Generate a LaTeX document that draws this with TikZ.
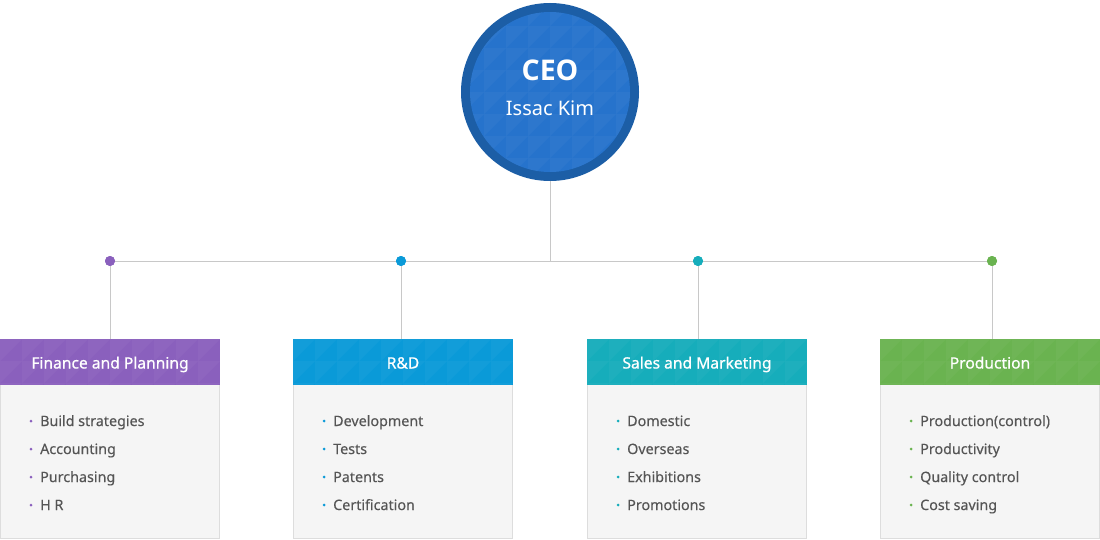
\documentclass[tikz,border=0pt]{standalone}
\usepackage{fontspec}
\setmainfont{Noto Sans}
\newfontfamily\ceofont{Open Sans}
\newfontfamily\hdrfont{Noto Sans}[FakeBold=0.6]
\newfontfamily\itemfont{Noto Sans}[FakeBold=0.25]
\definecolor{linegray}{HTML}{C8C8C8}
\definecolor{boxborder}{HTML}{DDDDDD}
\definecolor{boxbg}{HTML}{F5F5F5}
\definecolor{itemtext}{HTML}{555555}
\definecolor{cpurple}{HTML}{8A60BD}
\definecolor{cblue}{HTML}{0A9AD8}
\definecolor{cteal}{HTML}{16ADBB}
\definecolor{cgreen}{HTML}{6AB350}
\definecolor{ceoin}{HTML}{2673CC}
\definecolor{ceoring}{HTML}{1C5EA6}
\newcommand{\tripat}[4]{%
  \begin{scope}
    \clip (#1,#2) rectangle ++(#3,#4);
    \foreach \i in {0,...,10}{\foreach \j in {0,...,2}{
      \fill[white,opacity=0.035] (#1+\i*22,#2+\j*22) -- ++(22,0) -- ++(-22,22) -- cycle;
    }}
  \end{scope}}
\begin{document}
\begin{tikzpicture}[x=1pt,y=-1pt,
  conn/.style={draw=linegray, line width=0.9pt},
  hdr/.style={minimum width=220pt, minimum height=46pt, inner sep=0pt},
  hdrtext/.style={anchor=base, text=white, inner sep=0pt, font=\hdrfont\fontsize{15.6}{18}\selectfont},
  bodybox/.style={draw=boxborder, fill=boxbg, minimum width=219pt, minimum height=154pt, inner sep=0pt, line width=0.9pt},
  item/.style={anchor=base west, text=itemtext, font=\itemfont\fontsize{14.3}{17}\selectfont, inner sep=0pt},
  bul/.style={circle, inner sep=0pt, minimum size=3pt},
  jdot/.style={circle, inner sep=0pt, minimum size=10pt}]
\useasboundingbox (0,0) rectangle (1100,540);
\fill[white] (0,0) rectangle (1100,540);

% CEO
\node[circle, fill=ceoring, minimum size=178pt, inner sep=0pt] (ceo) at (550,92) {};
\fill[ceoin] (550,92) circle (80);
\begin{scope}
  \clip (550,92) circle (80);
  \foreach \i in {0,...,7}{\foreach \j in {0,...,7}{
    \fill[white,opacity=0.035] (462+\i*22,4+\j*22) -- ++(22,0) -- ++(-22,22) -- cycle;
  }}
\end{scope}
\node[text=white, anchor=base, inner sep=0pt, font=\ceofont\bfseries\fontsize{28.5}{32}\selectfont] (ceot) at (550,80.5) {CEO};
\node[text=white, anchor=base, inner sep=0pt, font=\fontsize{20}{24}\selectfont] (ceon) at (550,116) {Issac Kim};

% junction
\coordinate (j) at (550,261);
\node[jdot, fill=cpurple] (d1) at (110,261) {};
\node[jdot, fill=cblue] (d2) at (401,261) {};
\node[jdot, fill=cteal] (d3) at (698,261) {};
\node[jdot, fill=cgreen] (d4) at (992,261) {};

% boxes
\foreach \n/\x/\c in {1/110/cpurple,2/403/cblue,3/697/cteal,4/990/cgreen}{
  \node[bodybox] (b\n) at (\x,461.5) {};
  \node[hdr, fill=\c, anchor=north] (h\n) at (\x,339) {};
  \tripat{\x-110}{339}{220}{46}
}
\node[hdrtext] (t1) at (110,368.5) {Finance and Planning};
\node[hdrtext] (t2) at (403,368.5) {R\&D};
\node[hdrtext] (t3) at (697,368.5) {Sales and Marketing};
\node[hdrtext] (t4) at (990,368.5) {Production};

% connectors
\draw[conn] (ceo.south) -- (j);
\draw[conn] (d1) -- (d2) -- (d3) -- (d4);
\draw[conn] (d1) -- (d1 |- h1.north);
\draw[conn] (d2) -- (d2 |- h2.north);
\draw[conn] (d3) -- (d3 |- h3.north);
\draw[conn] (d4) -- (d4 |- h4.north);
\fill[cpurple] (d1) circle (5);
\fill[cblue] (d2) circle (5);
\fill[cteal] (d3) circle (5);
\fill[cgreen] (d4) circle (5);

% items
\foreach \x/\c/\a/\b/\cc/\d [count=\k] in {
  0/cpurple/Build strategies/Accounting/Purchasing/H R,
  293/cblue/Development/Tests/Patents/Certification,
  587/cteal/Domestic/Overseas/Exhibitions/Promotions,
  880/cgreen/Production(control)/Productivity/Quality control/Cost saving}{
  \node[bul, fill=\c] (p\k a) at (\x+31,421) {};
  \node[bul, fill=\c] (p\k b) at (\x+31,449) {};
  \node[bul, fill=\c] (p\k c) at (\x+31,477) {};
  \node[bul, fill=\c] (p\k d) at (\x+31,505) {};
  \node[item] (i\k a) at (\x+40,426) {\a};
  \node[item] (i\k b) at (\x+40,454) {\b};
  \node[item] (i\k c) at (\x+40,482) {\cc};
  \node[item] (i\k d) at (\x+40,510) {\d};
}
\end{tikzpicture}
\end{document}
